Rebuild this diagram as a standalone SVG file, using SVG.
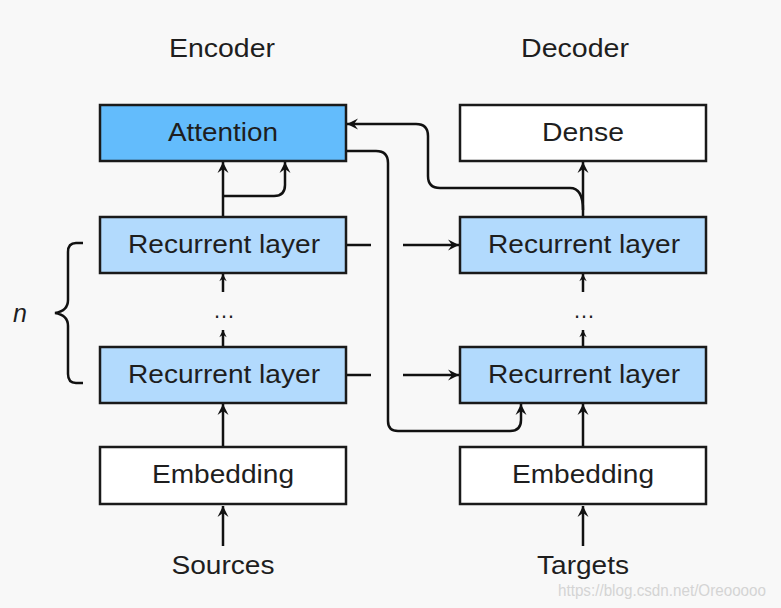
<svg xmlns="http://www.w3.org/2000/svg" width="781" height="608" viewBox="0 0 781 608">
<style>
.bg{fill:#f8f8f8}
.box{stroke:#1a1a1a;stroke-width:2.5}
.att{fill:#63bcfc}
.rec{fill:#b2dafd}
.wht{fill:#ffffff}
.t{font-family:"Liberation Sans",Arial,sans-serif;font-size:25px;fill:#1e1e1e;text-anchor:middle}
.d{font-family:"Liberation Sans",Arial,sans-serif;font-size:22px;fill:#1e1e1e;text-anchor:middle}
.c{fill:none;stroke:#111;stroke-width:2.5}
.wm{font-family:"Liberation Sans",Arial,sans-serif;font-size:16px;fill:#d4d4d4}
</style>
<defs>
<marker id="ah" viewBox="-12 -6 13 12" refX="0" refY="0" markerWidth="13" markerHeight="12" markerUnits="userSpaceOnUse" orient="auto">
<path d="M0,0 L-11,-5.5 L-7,0 L-11,5.5 Z" fill="#111"/>
</marker>
<marker id="ahs" viewBox="-12 -6 13 12" refX="0" refY="0" markerWidth="9" markerHeight="8" markerUnits="userSpaceOnUse" orient="auto">
<path d="M0,0 L-11,-5.5 L-7,0 L-11,5.5 Z" fill="#111"/>
</marker>
</defs>
<rect class="bg" x="0" y="0" width="781" height="608"/>

<text class="t" x="222" y="57" textLength="106" lengthAdjust="spacingAndGlyphs">Encoder</text>
<text class="t" x="575" y="57" textLength="108" lengthAdjust="spacingAndGlyphs">Decoder</text>

<g id="connectors">
<line class="c" x1="223" y1="546" x2="223" y2="506" marker-end="url(#ah)"/>
<line class="c" x1="223" y1="447" x2="223" y2="404" marker-end="url(#ah)"/>
<line class="c" x1="223" y1="347" x2="223" y2="330" marker-end="url(#ahs)"/>
<line class="c" x1="223" y1="292" x2="223" y2="274" marker-end="url(#ahs)"/>
<line class="c" x1="223" y1="216" x2="223" y2="162" marker-end="url(#ah)"/>
<path class="c" d="M223,196 L274,196 Q285,196 285,185 L285,162" marker-end="url(#ah)"/>
<line class="c" x1="583" y1="546" x2="583" y2="506" marker-end="url(#ah)"/>
<line class="c" x1="583" y1="447" x2="583" y2="404" marker-end="url(#ah)"/>
<line class="c" x1="583" y1="346" x2="583" y2="330" marker-end="url(#ahs)"/>
<line class="c" x1="583" y1="292" x2="583" y2="274" marker-end="url(#ahs)"/>
<line class="c" x1="583" y1="217" x2="583" y2="162" marker-end="url(#ah)"/>
<path class="c" d="M583,210 Q583,188 570,188 L440,188 Q428,188 428,176 L428,136 Q428,124 416,124 L347,124" marker-end="url(#ah)"/>
<line class="c" x1="346" y1="245" x2="371" y2="245"/>
<line class="c" x1="403" y1="245" x2="459" y2="245" marker-end="url(#ah)"/>
<line class="c" x1="346" y1="375" x2="371" y2="375"/>
<line class="c" x1="403" y1="375" x2="459" y2="375" marker-end="url(#ah)"/>
<path class="c" d="M346,151 L376,151 Q388,151 388,163 L388,421 Q388,431 398,431 L510,431 Q521,431 521,420 L521,404" marker-end="url(#ah)"/>
<path class="c" d="M83,243 L76,243 Q68,243 68,252 L68,300 Q68,311 55,313 Q68,315 68,326 L68,374 Q68,383 76,383 L83,383"/>
</g>

<g id="attention">
<rect class="box att" x="100" y="105" width="246" height="56"/>
<text class="t" x="223" y="141" textLength="110" lengthAdjust="spacingAndGlyphs">Attention</text>
</g>
<g id="enc-rec-top">
<rect class="box rec" x="100" y="217" width="246" height="56"/>
<text class="t" x="224" y="253" textLength="192" lengthAdjust="spacingAndGlyphs">Recurrent layer</text>
</g>
<g id="enc-dots">
<text class="d" x="224" y="318">…</text>
</g>
<g id="enc-rec-bottom">
<rect class="box rec" x="100" y="347" width="246" height="56"/>
<text class="t" x="224" y="383" textLength="192" lengthAdjust="spacingAndGlyphs">Recurrent layer</text>
</g>
<g id="enc-embedding">
<rect class="box wht" x="100" y="447" width="246" height="57"/>
<text class="t" x="223" y="483" textLength="142" lengthAdjust="spacingAndGlyphs">Embedding</text>
</g>
<g id="sources">
<text class="t" x="223" y="574" textLength="103" lengthAdjust="spacingAndGlyphs">Sources</text>
</g>

<g id="dense">
<rect class="box wht" x="460" y="105" width="246" height="56"/>
<text class="t" x="583" y="141" textLength="82" lengthAdjust="spacingAndGlyphs">Dense</text>
</g>
<g id="dec-rec-top">
<rect class="box rec" x="460" y="217" width="246" height="56"/>
<text class="t" x="584" y="253" textLength="192" lengthAdjust="spacingAndGlyphs">Recurrent layer</text>
</g>
<g id="dec-dots">
<text class="d" x="584" y="318">…</text>
</g>
<g id="dec-rec-bottom">
<rect class="box rec" x="460" y="347" width="246" height="56"/>
<text class="t" x="584" y="383" textLength="192" lengthAdjust="spacingAndGlyphs">Recurrent layer</text>
</g>
<g id="dec-embedding">
<rect class="box wht" x="460" y="447" width="246" height="57"/>
<text class="t" x="583" y="483" textLength="142" lengthAdjust="spacingAndGlyphs">Embedding</text>
</g>
<g id="targets">
<text class="t" x="583" y="574" textLength="92" lengthAdjust="spacingAndGlyphs">Targets</text>
</g>

<g id="n-label">
<text class="t" x="20" y="322" style="font-style:italic">n</text>
</g>
<text class="wm" x="558" y="596" textLength="208" lengthAdjust="spacingAndGlyphs">https://blog.csdn.net/Oreooooo</text>
</svg>
